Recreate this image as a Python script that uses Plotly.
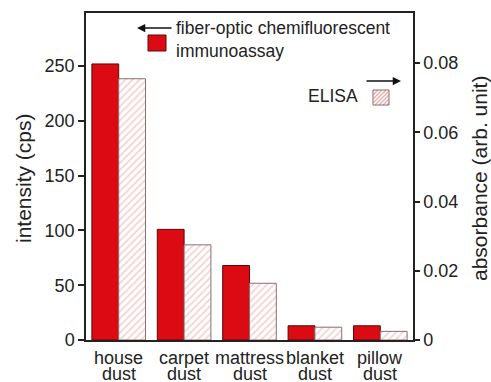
import plotly.graph_objects as go

categories = ["house dust", "carpet dust", "mattress dust", "blanket dust", "pillow dust"]
intensity_cps = [252, 101, 68, 13, 13]
absorbance = [0.0755, 0.0275, 0.0164, 0.0037, 0.0025]

left_ticks = [0, 50, 100, 150, 200, 250]
right_ticks = [0, 0.02, 0.04, 0.06, 0.08]
right_tick_text = ["0", "0.02", "0.04", "0.06", "0.08"]

W, H = 491, 382
L, R, T, B = 86, 78, 13, 42
PW, PH = W - L - R, H - T - B

def px(x):
    return (x - L) / PW

def py(y):
    return 1 - (y - T) / PH

FONT = "Liberation Sans, Arial, sans-serif"
TXT = "#222222"
RED = "#dc0a12"

xs = list(range(len(categories)))
bw = 0.41

fig = go.Figure()
fig.add_trace(go.Bar(
    x=xs, y=intensity_cps, width=bw, offset=-bw, yaxis="y",
    marker=dict(color=RED, line=dict(color="#5a0a0a", width=1)),
    showlegend=False,
))
fig.add_trace(go.Bar(
    x=xs, y=absorbance, width=bw, offset=0, yaxis="y2",
    marker=dict(color="white", line=dict(color="#8a7070", width=1),
                pattern=dict(shape="/", fgcolor="#eda8a8", bgcolor="white", size=5, solidity=0.35)),
    showlegend=False,
))

fig.update_layout(
    width=W, height=H,
    margin=dict(l=L, r=R, t=T, b=B, autoexpand=False),
    paper_bgcolor="white", plot_bgcolor="white",
    font=dict(family=FONT, size=18, color=TXT),
    barmode="overlay",
    xaxis=dict(
        range=[-0.5, 4.5], tickvals=xs, showticklabels=False, automargin=False,
        showline=True, linecolor="#222", linewidth=1.5, mirror=True,
        ticks="", showgrid=False, zeroline=False,
    ),
    yaxis=dict(
        range=[0, 298.5], tickvals=left_ticks, automargin=False,
        showline=True, linecolor="#222", linewidth=1.5,
        ticks="outside", ticklen=6, tickwidth=1.5, tickcolor="#222",
        showgrid=False, zeroline=False,
        tickfont=dict(size=18, color=TXT),
    ),
    yaxis2=dict(
        range=[0, 0.0945], tickvals=right_ticks, ticktext=right_tick_text, automargin=False,
        overlaying="y", side="right",
        showline=True, linecolor="#222", linewidth=1.5,
        ticks="outside", ticklen=5, tickwidth=1.5, tickcolor="#222",
        showgrid=False, zeroline=False,
        tickfont=dict(size=18, color=TXT),
    ),
)

annotations = [
    dict(text="intensity (cps)", x=px(23), y=py(178), xref="paper", yref="paper",
         xanchor="center", yanchor="middle",
         showarrow=False, textangle=-90, font=dict(size=21, color=TXT)),
    dict(text="absorbance (arb. unit)", x=px(479), y=py(178), xref="paper", yref="paper",
         xanchor="center", yanchor="middle",
         showarrow=False, textangle=-90, font=dict(size=21, color=TXT)),
    dict(text="fiber-optic chemifluorescent<br>immunoassay", x=px(174), y=py(40),
         xref="paper", yref="paper", xanchor="left", yanchor="middle", align="left",
         showarrow=False, font=dict(size=17.5, color=TXT)),
    dict(text="ELISA", x=px(360), y=py(96), xref="paper", yref="paper",
         xanchor="right", yanchor="middle", showarrow=False, font=dict(size=17.5, color=TXT)),
    dict(text="", x=px(137), y=py(28), xref="paper", yref="paper",
         ax=36, ay=0, showarrow=True, arrowhead=2, arrowsize=1.1, arrowwidth=1.5, arrowcolor="#111"),
    dict(text="", x=px(401), y=py(81), xref="paper", yref="paper",
         ax=-36, ay=0, showarrow=True, arrowhead=2, arrowsize=1.1, arrowwidth=1.5, arrowcolor="#111"),
]
for i, cat in enumerate(categories):
    w1, w2 = cat.split(" ")
    annotations.append(dict(text=w1, x=i, y=py(358), xref="x", yref="paper", showarrow=False,
                            xanchor="center", yanchor="middle", borderpad=0,
                            font=dict(size=18, color=TXT)))
    annotations.append(dict(text=w2, x=i, y=py(374), xref="x", yref="paper", showarrow=False,
                            xanchor="center", yanchor="middle", borderpad=0,
                            font=dict(size=18, color=TXT)))

shapes = [
    dict(type="rect", xref="paper", yref="paper", x0=px(148), x1=px(166), y0=py(51), y1=py(35),
         fillcolor=RED, line=dict(color="#5a0a0a", width=1)),
]
sx0, sx1, sy0, sy1 = 373, 389, 90, 105
for k in range(-14, 18, 4):
    xa, ya = sx0 + k, sy1
    xb, yb = sx0 + k + (sy1 - sy0), sy0
    if xa < sx0:
        ya = sy1 - (sx0 - xa); xa = sx0
    if xb > sx1:
        yb = sy0 + (xb - sx1); xb = sx1
    if xa < xb:
        shapes.append(dict(type="line", xref="paper", yref="paper", x0=px(xa), y0=py(ya),
                           x1=px(xb), y1=py(yb), line=dict(color="#eda8a8", width=1.2)))
shapes.append(dict(type="rect", xref="paper", yref="paper", x0=px(sx0), x1=px(sx1), y0=py(sy1), y1=py(sy0),
                   fillcolor="rgba(0,0,0,0)", line=dict(color="#8a7070", width=1)))

fig.update_layout(annotations=annotations, shapes=shapes)
fig.write_html("out.html")
